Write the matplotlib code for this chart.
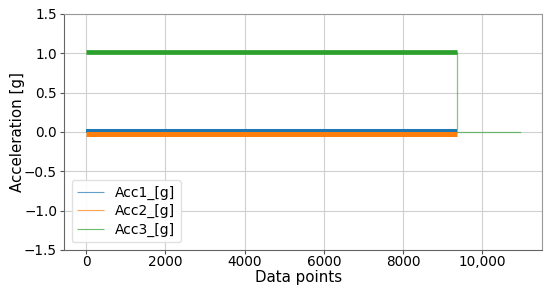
import matplotlib
matplotlib.use("Agg")
import matplotlib.pyplot as plt

# Recorded signal: noisy band while the sensor is active, flat zero tail afterwards
active_x = [0, 9355]
tail_x = [9355, 9355, 10950]

acc1_level = [0.012, 0.012]
acc2_level = [-0.022, -0.022]
acc3_level = [1.022, 1.022]
acc3_tail = [1.022, 0.0, 0.0]

series_names = ["Acc1_[g]", "Acc2_[g]", "Acc3_[g]"]
series_colors = ["#1f77b4", "#ff7f0e", "#2ca02c"]

x_ticks = [0, 2000, 4000, 6000, 8000, 10000]
x_tick_labels = ["0", "2000", "4000", "6000", "8000", "10,000"]
y_ticks = [-1.5, -1.0, -0.5, 0.0, 0.5, 1.0, 1.5]

fig = plt.figure(figsize=(5.5, 2.91), dpi=100)
ax = fig.add_axes([0.1164, 0.141, 0.869, 0.811])

# band thickness (noise) drawn as line width
ax.plot(active_x, acc1_level, color=series_colors[0], linewidth=2.9,
        solid_capstyle="butt", label=series_names[0])
ax.plot(active_x, acc2_level, color=series_colors[1], linewidth=3.6,
        solid_capstyle="butt", label=series_names[1])
ax.plot(active_x, acc3_level, color=series_colors[2], linewidth=3.4,
        solid_capstyle="butt", label=series_names[2])
ax.plot(tail_x, acc3_tail, color=series_colors[2], linewidth=0.9, alpha=0.6)

ax.set_ylim(-1.5, 1.5)
ax.set_xlim(-560, 11510)
ax.set_yticks(y_ticks)
ax.set_xticks(x_ticks)
ax.set_xticklabels(x_tick_labels)
ax.tick_params(labelsize=9.8, length=3, pad=2, color="#555555")
ax.tick_params(axis="x", pad=0.5)

ax.grid(True, color="#d0d0d0", linewidth=0.8)
ax.set_axisbelow(True)
for side in ["top", "right"]:
    ax.spines[side].set_color("#999999")
for side in ["left", "bottom"]:
    ax.spines[side].set_color("#666666")

ax.set_xlabel("Data points", fontsize=10.8)
ax.set_ylabel("Acceleration [g]", fontsize=10.8)
ax.xaxis.set_label_coords(0.49, -0.083)
ax.yaxis.set_label_coords(-0.082, 0.5)

leg = ax.legend(loc="lower left", fontsize=10, framealpha=0.9,
                edgecolor="#dddddd", handlelength=1.9, handletextpad=0.8,
                labelspacing=0.3, borderpad=0.4, borderaxespad=0.55)
for line in leg.get_lines():
    line.set_linewidth(0.8)
    line.set_alpha(0.7)

fig.savefig("out.png", dpi=100)
